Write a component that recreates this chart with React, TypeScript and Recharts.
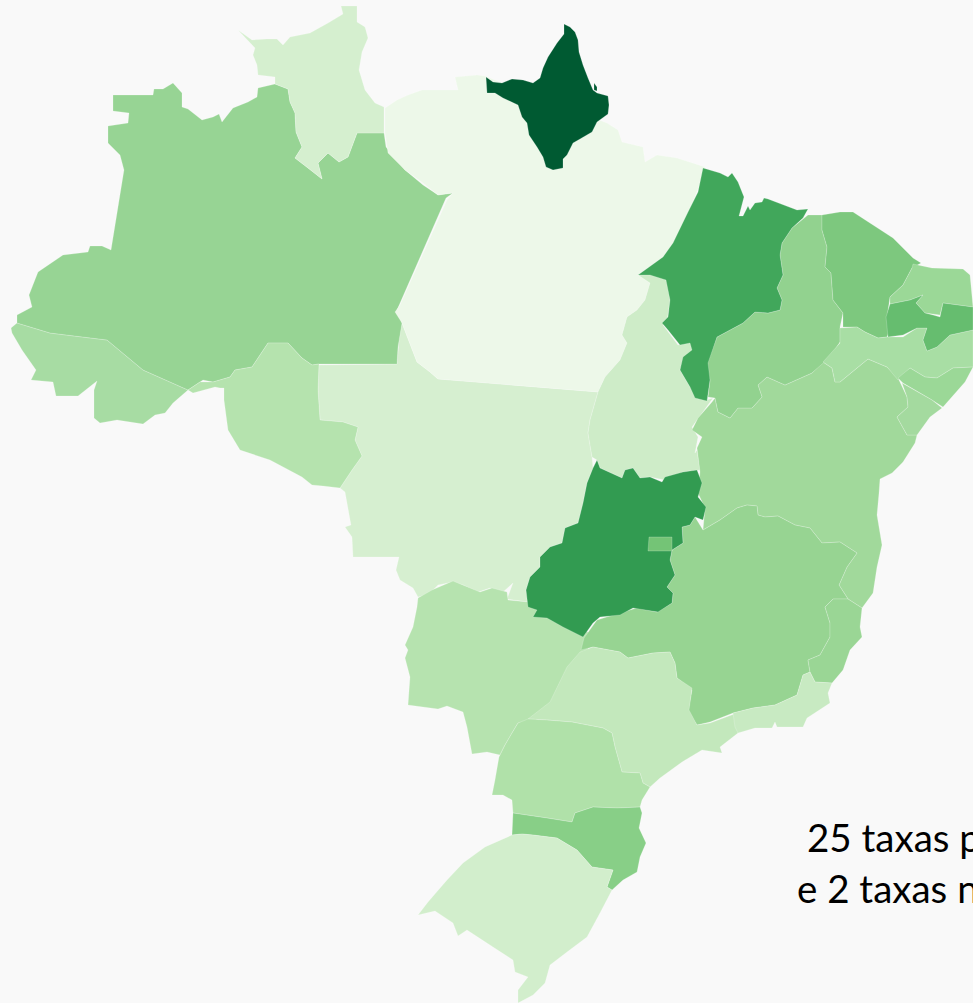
import { ScatterChart, Scatter, XAxis, YAxis, Polygon } from "recharts"

type Pt = [number, number]

const BG = "#f9f9f9"

// state outlines (x, y on a 973 x 1003 map grid)
const acre: Pt[] = [[17,323],[50,333],[107,340],[143,370],[188,390],[173,403],[165,413],[155,415],[143,424],[117,420],[100,423],[94,418],[94,390],[97,381],[78,396],[56,396],[53,382],[31,380],[36,370],[22,350],[12,333],[11,328]]
const amazonas: Pt[] = [[113,95],[153,95],[154,89],[163,89],[173,83],[182,93],[182,107],[188,109],[202,120],[213,117],[219,114],[222,122],[233,108],[248,102],[257,97],[258,88],[275,84],[288,89],[290,102],[295,113],[296,132],[302,147],[295,158],[308,168],[322,179],[318,163],[328,153],[339,162],[348,157],[357,133],[384,133],[386,147],[405,170],[423,185],[438,195],[453,193],[446,198],[397,310],[402,323],[398,347],[397,364],[319,364],[312,365],[302,358],[288,343],[268,343],[258,358],[252,367],[235,370],[230,377],[213,382],[203,380],[188,390],[143,370],[107,340],[50,333],[17,323],[17,315],[32,307],[29,295],[38,272],[63,255],[88,252],[90,246],[102,246],[111,250],[124,170],[120,155],[108,143],[108,126],[128,123],[129,113],[113,111]]
const rondonia: Pt[] = [[268,343],[288,343],[302,358],[312,365],[319,364],[318,390],[320,420],[343,422],[358,427],[355,440],[362,456],[352,470],[340,488],[323,486],[312,485],[302,477],[270,460],[240,450],[228,430],[224,400],[224,388],[220,388],[215,387],[193,393],[188,390],[200,382],[213,382],[230,377],[235,370],[252,367],[258,358]]
const roraima: Pt[] = [[238,30],[252,40],[267,39],[277,39],[283,45],[290,37],[310,33],[328,23],[343,14],[341,6],[357,6],[357,22],[365,27],[368,38],[362,52],[359,70],[365,90],[375,103],[384,107],[384,133],[357,133],[348,157],[339,162],[328,153],[318,163],[322,179],[308,168],[295,158],[302,147],[296,132],[295,113],[290,102],[288,89],[275,84],[275,77],[258,75],[257,65],[253,55],[255,48]]
const para: Pt[] = [[385,108],[397,100],[408,95],[422,90],[440,90],[458,90],[455,77],[477,75],[485,76],[520,90],[607,123],[618,130],[622,142],[643,147],[645,162],[657,155],[677,158],[705,167],[702,178],[695,197],[688,213],[682,230],[670,248],[663,257],[638,275],[650,283],[645,300],[637,310],[627,317],[622,335],[627,343],[620,360],[605,377],[598,392],[438,379],[430,372],[417,362],[402,323],[395,312],[400,305],[447,200],[453,193],[438,195],[423,183],[405,170],[388,153],[385,133]]
const amapa: Pt[] = [[564,24],[570,27],[575,32],[578,40],[579,52],[583,65],[588,78],[593,90],[597,93],[608,96],[609,105],[608,114],[597,122],[592,132],[580,139],[573,143],[567,155],[563,159],[563,168],[553,170],[546,167],[543,157],[537,147],[529,135],[527,123],[522,117],[518,105],[503,98],[495,93],[487,93],[486,77],[493,82],[502,83],[512,79],[523,80],[533,83],[540,78],[543,68],[548,57],[557,43],[564,34]]
const amapaIsland: Pt[] = [[594,83],[597,87],[597,91],[594,90]]
const tocantins: Pt[] = [[638,275],[650,273],[667,280],[670,300],[667,322],[663,325],[678,345],[692,342],[693,352],[683,360],[680,370],[690,387],[697,398],[707,400],[713,398],[692,427],[698,437],[695,453],[697,450],[700,470],[683,472],[665,480],[650,477],[640,478],[633,468],[625,470],[622,478],[600,468],[597,460],[592,457],[588,433],[590,420],[598,392],[605,377],[620,360],[627,343],[622,335],[627,317],[637,310],[645,300],[650,283]]
const maranhao: Pt[] = [[638,275],[663,257],[673,243],[688,212],[698,192],[703,168],[720,173],[728,177],[732,173],[738,182],[744,197],[739,216],[743,216],[748,206],[750,210],[755,203],[762,202],[764,198],[768,199],[797,210],[808,209],[803,218],[792,228],[782,243],[780,255],[783,275],[777,288],[782,300],[780,310],[768,313],[755,312],[743,323],[717,337],[708,363],[710,380],[707,401],[695,398],[690,387],[680,370],[683,357],[692,350],[690,343],[680,345],[668,330],[662,323],[668,317],[670,300],[666,280],[650,275]]
const piaui: Pt[] = [[808,215],[822,215],[822,230],[827,247],[825,267],[831,273],[833,300],[843,313],[840,327],[840,342],[830,357],[812,373],[785,385],[767,377],[758,385],[762,397],[752,408],[738,408],[730,418],[718,412],[715,398],[708,397],[710,380],[705,368],[717,337],[743,323],[755,312],[768,313],[780,310],[782,300],[777,288],[783,275],[780,255],[782,243],[792,228]]
const ceara: Pt[] = [[822,215],[840,212],[853,212],[873,225],[893,238],[913,258],[921,263],[912,268],[903,285],[890,297],[887,317],[890,328],[887,337],[878,338],[865,332],[857,327],[843,327],[843,313],[833,300],[831,273],[825,267],[827,247],[822,230]]
const rioGrandeNorte: Pt[] = [[913,264],[932,268],[963,269],[970,275],[973,307],[943,303],[940,315],[925,313],[916,303],[923,295],[910,300],[890,304],[890,297],[903,285],[912,268]]
const paraiba: Pt[] = [[890,304],[910,300],[923,295],[916,303],[925,313],[933,315],[940,317],[943,303],[973,307],[973,330],[950,335],[937,347],[927,351],[923,340],[927,328],[917,328],[903,335],[888,337],[886,317]]
const pernambuco: Pt[] = [[840,328],[857,327],[865,332],[878,338],[887,337],[903,337],[917,328],[927,328],[923,340],[927,351],[937,347],[950,335],[973,330],[973,367],[953,368],[937,378],[925,377],[910,368],[898,380],[887,367],[868,359],[857,368],[840,382],[835,382],[832,368],[823,362],[840,343]]
const alagoas: Pt[] = [[898,378],[910,368],[925,377],[937,378],[953,368],[973,367],[965,382],[943,407],[932,400],[903,383]]
const sergipe: Pt[] = [[902,383],[932,400],[942,408],[930,417],[917,435],[907,435],[897,417],[908,407],[907,397]]
const bahia: Pt[] = [[715,398],[718,412],[730,418],[738,408],[752,408],[762,397],[758,385],[767,377],[785,385],[812,373],[823,362],[832,368],[835,382],[840,382],[857,368],[868,359],[887,367],[898,378],[907,397],[908,407],[897,417],[907,435],[917,435],[915,443],[903,462],[892,473],[880,479],[879,493],[877,515],[882,545],[877,567],[873,593],[862,608],[848,599],[839,585],[847,567],[857,553],[840,542],[822,543],[810,528],[795,525],[778,516],[765,517],[758,515],[757,506],[747,505],[737,508],[720,520],[703,530],[705,508],[698,493],[700,472],[697,448],[702,437],[692,430],[698,418],[712,402]]
const minasGerais: Pt[] = [[703,530],[720,520],[737,508],[747,505],[757,506],[758,515],[765,517],[778,516],[795,525],[810,528],[822,543],[840,542],[857,553],[847,567],[839,585],[848,599],[833,599],[825,607],[830,623],[830,637],[820,655],[808,660],[810,672],[803,675],[797,695],[775,705],[753,708],[733,713],[710,722],[697,725],[688,712],[692,690],[677,678],[675,663],[670,652],[653,653],[633,657],[628,658],[620,652],[593,647],[581,650],[584,638],[597,620],[623,612],[637,608],[657,612],[672,603],[673,593],[667,587],[675,575],[670,560],[672,550],[683,543],[682,527],[690,525],[695,517]]
const goias: Pt[] = [[597,460],[600,468],[622,478],[625,470],[633,468],[640,478],[650,477],[662,482],[665,477],[683,472],[697,470],[702,483],[698,497],[706,507],[703,520],[695,517],[690,525],[682,527],[683,543],[672,550],[670,560],[675,575],[667,587],[673,593],[672,603],[658,612],[633,608],[620,615],[600,617],[593,623],[583,637],[563,627],[547,618],[533,617],[537,610],[528,607],[526,590],[530,577],[540,567],[540,557],[550,547],[562,543],[565,528],[578,523],[583,503],[587,483],[593,468]]
const distritoFederal: Pt[] = [[649,537],[672,537],[672,551],[648,551]]
const matoGrosso: Pt[] = [[319,365],[397,364],[399,340],[402,323],[417,362],[430,372],[438,379],[598,392],[590,420],[588,433],[592,457],[593,468],[587,483],[583,503],[578,523],[565,528],[562,543],[550,547],[540,557],[540,567],[530,577],[526,590],[528,602],[507,599],[513,583],[503,592],[490,588],[478,592],[463,585],[453,582],[438,585],[428,595],[418,597],[413,588],[400,580],[396,570],[399,557],[353,557],[352,537],[345,527],[351,525],[347,503],[345,492],[340,488],[352,470],[362,456],[355,440],[358,427],[343,422],[320,420],[318,390]]
const matoGrossoSul: Pt[] = [[418,598],[432,590],[453,581],[480,592],[492,588],[507,592],[508,600],[528,602],[540,612],[560,620],[588,632],[588,652],[572,668],[556,702],[536,720],[518,723],[512,733],[505,745],[500,755],[487,752],[472,754],[467,727],[463,712],[447,706],[438,709],[408,705],[410,677],[405,658],[408,650],[405,645],[413,627],[417,607]]
const espiritoSanto: Pt[] = [[848,599],[862,608],[860,627],[862,637],[850,650],[843,670],[832,683],[815,682],[810,672],[808,660],[820,655],[830,637],[830,623],[825,607],[833,599]]
const rioJaneiro: Pt[] = [[803,675],[810,672],[815,682],[832,683],[828,693],[830,703],[807,718],[803,727],[777,727],[775,722],[772,728],[755,728],[738,733],[735,727],[733,713],[753,708],[775,705],[797,695]]
const saoPaulo: Pt[] = [[580,652],[593,647],[620,652],[628,658],[653,653],[670,652],[675,663],[677,678],[692,688],[689,710],[697,725],[710,723],[737,713],[743,718],[738,733],[720,747],[722,753],[702,750],[682,762],[660,778],[650,787],[643,783],[640,773],[622,772],[615,747],[612,733],[603,728],[572,722],[547,720],[528,719],[550,702],[567,667]]
const parana: Pt[] = [[518,723],[528,719],[547,720],[572,722],[603,728],[612,733],[615,747],[622,772],[640,773],[643,783],[650,787],[642,800],[640,807],[617,808],[593,807],[575,813],[572,822],[547,818],[513,813],[512,800],[503,795],[492,795],[495,780],[499,757],[505,745],[512,733]]
const santaCatarina: Pt[] = [[513,813],[547,818],[572,822],[575,813],[593,807],[617,808],[640,807],[642,813],[639,828],[646,843],[640,857],[637,872],[623,880],[612,890],[607,887],[613,870],[592,867],[577,850],[557,838],[533,835],[522,834],[512,835]]
const rioGrandeSul: Pt[] = [[512,835],[522,834],[533,835],[557,838],[577,850],[592,867],[613,870],[607,887],[612,890],[600,913],[587,937],[567,952],[550,965],[545,983],[533,995],[518,1003],[518,990],[528,977],[515,972],[513,960],[493,947],[467,930],[458,936],[453,923],[435,911],[418,915],[428,902],[447,880],[463,863],[485,847]]

const states: { name: string; outline: Pt[]; color: string }[] = [
  { name: "MT", outline: matoGrosso, color: "#d6efd0" },
  { name: "AC", outline: acre, color: "#a7dca3" },
  { name: "AM", outline: amazonas, color: "#97d494" },
  { name: "RO", outline: rondonia, color: "#b5e3ae" },
  { name: "RR", outline: roraima, color: "#d5efcf" },
  { name: "PA", outline: para, color: "#edf8e9" },
  { name: "AP", outline: amapa, color: "#005a32" },
  { name: "AP2", outline: amapaIsland, color: "#005a32" },
  { name: "TO", outline: tocantins, color: "#ceecc8" },
  { name: "BA", outline: bahia, color: "#a1d99b" },
  { name: "PI", outline: piaui, color: "#92d28f" },
  { name: "MA", outline: maranhao, color: "#41a75b" },
  { name: "CE", outline: ceara, color: "#7dc87e" },
  { name: "RN", outline: rioGrandeNorte, color: "#9bd897" },
  { name: "PE", outline: pernambuco, color: "#a8dea4" },
  { name: "PB", outline: paraiba, color: "#66bd6f" },
  { name: "AL", outline: alagoas, color: "#9bd897" },
  { name: "SE", outline: sergipe, color: "#a4da9f" },
  { name: "MS", outline: matoGrossoSul, color: "#b6e3af" },
  { name: "MG", outline: minasGerais, color: "#97d492" },
  { name: "GO", outline: goias, color: "#329b51" },
  { name: "DF", outline: distritoFederal, color: "#74c476" },
  { name: "ES", outline: espiritoSanto, color: "#9ad695" },
  { name: "SP", outline: saoPaulo, color: "#c3e8bc" },
  { name: "RJ", outline: rioJaneiro, color: "#c8eac2" },
  { name: "PR", outline: parana, color: "#b0e1a9" },
  { name: "SC", outline: santaCatarina, color: "#88cf87" },
  { name: "RS", outline: rioGrandeSul, color: "#d2eecc" },
]

const noteLines = [
  { text: "25 taxas p", x: 807, y: 852 },
  { text: "e 2 taxas n", x: 797, y: 903 },
]

export default function App() {
  return (
    <div style={{ position: "fixed", left: 0, top: 0, width: 973, height: 1003, background: BG, overflow: "hidden" }}>
      <ScatterChart width={973} height={1003} margin={{ top: 0, right: 0, bottom: 0, left: 0 }}>
        <XAxis type="number" dataKey="x" domain={[0, 973]} hide />
        <YAxis type="number" dataKey="y" domain={[0, 1003]} reversed hide />
        {states.map((s) => (
          <Scatter
            key={s.name}
            name={s.name}
            data={s.outline.map(([x, y]) => ({ x, y }))}
            isAnimationActive={false}
            shape={() => <g />}
            line={(p: any) => (
              <Polygon points={p.points} fill={s.color} stroke="#ffffff" strokeOpacity={0.25} strokeWidth={0.8} />
            )}
          />
        ))}
        {noteLines.map((l) => (
          <text key={l.text} x={l.x} y={l.y} fontFamily="Lato, sans-serif" fontSize={38.5} fill="#000">
            {l.text}
          </text>
        ))}
      </ScatterChart>
    </div>
  )
}
